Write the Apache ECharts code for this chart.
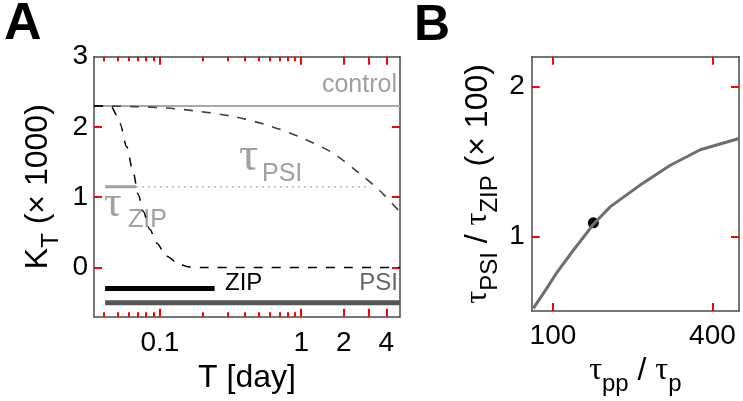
<!DOCTYPE html>
<html><head><meta charset="utf-8">
<script src="https://cdn.jsdelivr.net/npm/echarts@6/dist/echarts.min.js"></script>
<style>html,body{margin:0;padding:0;background:#fff}#c{width:743px;height:401px}</style>
</head><body><div id="c"></div>
<script>
// ---------- Panel A data ----------
const tRangeA = [0.0342, 5];
const kRangeA = [-0.7, 3];
const xMajorTicksA = [0.1, 1, 2, 3, 4];
const xMinorTicksA = [0.04, 0.05, 0.06, 0.07, 0.08, 0.09, 0.2, 0.3, 0.4, 0.5, 0.6, 0.7, 0.8, 0.9];
const xLabelsA = [0.1, 1, 2, 4];
const yTicksA = [0, 1, 2];
const yLabelsA = [0, 1, 2, 3];
const controlT = [0.0342, 5];
const controlK = [2.3, 2.3];
const zipT = [0.0342, 0.0409, 0.0456, 0.0495, 0.0522, 0.0582, 0.0648, 0.0703, 0.0762, 0.085, 0.0948, 0.1115, 0.1384, 0.1628, 0.1915, 5];
const zipK = [2.3, 2.3, 2.28, 2.17, 2.05, 1.72, 1.35, 1.04, 0.80, 0.54, 0.35, 0.16, 0.04, 0.006, 0, 0];
const psiT = [0.0342, 0.0648, 0.1115, 0.1915, 0.329, 0.566, 0.973, 1.671, 2.578, 3.57, 5.0];
const psiK = [2.3, 2.29, 2.27, 2.22, 2.15, 2.03, 1.86, 1.63, 1.34, 1.10, 0.79];
const halfSolidT = [0.041, 0.068];
const halfSolidK = [1.15, 1.15];
const halfDotT = [0.068, 3.1];
const halfDotK = [1.15, 1.15];
const zipBarT = [0.041, 0.244];
const zipBarK = [-0.3, -0.3];
const psiBarT = [0.041, 5];
const psiBarK = [-0.5, -0.5];

// ---------- Panel B data ----------
const ppRangeB = [60, 450];
const ratioRangeB = [0.5, 2.2];
const xTicksB = [100, 400];
const yTicksB = [1, 2];
const ppX = [63, 85.5, 108, 138, 176, 208, 236, 264, 320, 377, 450];
const ratioY = [0.518, 0.637, 0.761, 0.905, 1.08, 1.198, 1.27, 1.342, 1.473, 1.578, 1.653];
const dotX = [176];
const dotY = [1.09];

const zip = (a, b) => a.map((v, i) => [v, b[i]]);
const SANS = 'Liberation Sans, Arial, Helvetica, sans-serif';
const SERIF = 'Liberation Serif, Times New Roman, serif';
const AX = '#4a4a4a';

function axisBase(o) {
  return Object.assign({
    axisLine: { show: false, onZero: false },
    axisTick: { show: false },
    axisLabel: { show: false },
    splitLine: { show: false }
  }, o);
}
function line() { return { show: true, onZero: false, lineStyle: { color: AX, width: 1.5 } }; }
function ticks(vals, len) {
  return { show: true, inside: true, length: len, customValues: vals, lineStyle: { color: 'red', width: 2 } };
}
const labelStyle = { show: true, fontSize: 28, fontFamily: SANS, color: '#000' };
const richName = {
  m: { fontSize: 32, lineHeight: 32, fontFamily: SANS, color: '#000', verticalAlign: 'top' },
  t: { fontSize: 32, lineHeight: 32, fontFamily: SERIF, color: '#000', verticalAlign: 'top' },
  s: { fontSize: 24, lineHeight: 24, fontFamily: SANS, color: '#000', verticalAlign: 'top', padding: [17, 0, 0, 0] }
};
const fmt = v => String(+(+v).toPrecision(3));

const option = {
  animation: false,
  grid: [
    { left: 94, top: 56.7, width: 306, height: 260 },
    { left: 531.7, top: 56.7, width: 207.3, height: 260 }
  ],
  xAxis: [
    axisBase({ gridIndex: 0, type: 'log', position: 'bottom', min: tRangeA[0], max: tRangeA[1],
      axisLine: line(),
      axisTick: ticks(xMajorTicksA, 8),
      axisLabel: Object.assign({}, labelStyle, { customValues: xLabelsA, margin: 13, formatter: fmt }),
      name: 'T [day]', nameLocation: 'middle', nameGap: 37,
      nameTextStyle: { fontSize: 32, fontFamily: SANS, color: '#000' } }),
    axisBase({ gridIndex: 0, type: 'log', position: 'bottom', min: tRangeA[0], max: tRangeA[1],
      axisTick: ticks(xMinorTicksA, 4.5) }),
    axisBase({ gridIndex: 0, type: 'log', position: 'top', min: tRangeA[0], max: tRangeA[1],
      axisLine: line(),
      axisTick: ticks(xMajorTicksA, 8) }),
    axisBase({ gridIndex: 0, type: 'log', position: 'top', min: tRangeA[0], max: tRangeA[1],
      axisTick: ticks(xMinorTicksA, 4.5) }),
    axisBase({ gridIndex: 1, type: 'value', position: 'bottom', min: ppRangeB[0], max: ppRangeB[1],
      axisLine: line(),
      axisTick: ticks(xTicksB, 8),
      axisLabel: Object.assign({}, labelStyle, { customValues: xTicksB, margin: 11 }),
      name: '{t|τ}{s|pp}{m| / }{t|τ}{s|p}', nameLocation: 'middle', nameGap: 32,
      nameTextStyle: { rich: richName } }),
    axisBase({ gridIndex: 1, type: 'value', position: 'top', min: ppRangeB[0], max: ppRangeB[1],
      axisLine: line(),
      axisTick: ticks(xTicksB, 8) })
  ],
  yAxis: [
    axisBase({ gridIndex: 0, type: 'value', position: 'left', min: kRangeA[0], max: kRangeA[1],
      axisLine: line(),
      axisTick: ticks(yTicksA, 8),
      axisLabel: Object.assign({}, labelStyle, { customValues: yLabelsA, margin: 6 }),
      name: '{m|K}{s|T}{m| (× 1000)}', nameLocation: 'middle', nameRotate: 90, nameGap: 40,
      nameTextStyle: { rich: richName } }),
    axisBase({ gridIndex: 0, type: 'value', position: 'right', min: kRangeA[0], max: kRangeA[1],
      axisLine: line(),
      axisTick: ticks(yTicksA, 8) }),
    axisBase({ gridIndex: 1, type: 'value', position: 'left', min: ratioRangeB[0], max: ratioRangeB[1],
      axisLine: line(),
      axisTick: ticks(yTicksB, 8),
      axisLabel: Object.assign({}, labelStyle, { customValues: yTicksB, margin: 7 }),
      name: '{t|τ}{s|PSI}{m| / }{t|τ}{s|ZIP}{m| (× 100)}', nameLocation: 'middle', nameRotate: 90, nameGap: 38,
      nameTextStyle: { rich: richName } }),
    axisBase({ gridIndex: 1, type: 'value', position: 'right', min: ratioRangeB[0], max: ratioRangeB[1],
      axisLine: line(),
      axisTick: ticks(yTicksB, 8) })
  ],
  series: [
    { type: 'line', xAxisIndex: 0, yAxisIndex: 0, data: zip(controlT, controlK), symbol: 'none',
      lineStyle: { color: '#a8a8a8', width: 2 } },
    { type: 'line', xAxisIndex: 0, yAxisIndex: 0, data: zip(halfSolidT, halfSolidK), symbol: 'none',
      lineStyle: { color: '#a0a0a0', width: 3, cap: 'butt' } },
    { type: 'line', xAxisIndex: 0, yAxisIndex: 0, data: zip(halfDotT, halfDotK), symbol: 'none',
      lineStyle: { color: '#a0a0a0', width: 1.5, type: [1.5, 4.5] } },
    { type: 'line', xAxisIndex: 0, yAxisIndex: 0, data: zip(psiT, psiK), symbol: 'none', smooth: 0.3,
      lineStyle: { color: '#404040', width: 1.6, type: [9, 9] } },
    { type: 'line', xAxisIndex: 0, yAxisIndex: 0, data: zip(zipT, zipK), symbol: 'none', smooth: 0.3, smoothMonotone: 'x',
      lineStyle: { color: '#000', width: 1.5, type: [9, 9] } },
    { type: 'line', xAxisIndex: 0, yAxisIndex: 0, data: zip(zipBarT, zipBarK), symbol: 'none',
      lineStyle: { color: '#000', width: 5, cap: 'butt' } },
    { type: 'line', xAxisIndex: 0, yAxisIndex: 0, data: zip(psiBarT, psiBarK), symbol: 'none',
      lineStyle: { color: '#555', width: 5, cap: 'butt' } },
    { type: 'line', xAxisIndex: 4, yAxisIndex: 2, data: zip(ppX, ratioY), symbol: 'none',
      lineStyle: { color: '#6e6e6e', width: 3 } },
    { type: 'scatter', xAxisIndex: 4, yAxisIndex: 2, data: zip(dotX, dotY), symbol: 'circle', symbolSize: 11,
      itemStyle: { color: '#000', opacity: 1 } }
  ]
};
const chart = echarts.init(document.getElementById('c'));
chart.setOption(option);
chart.setOption({
  graphic: [
    { type: 'text', x: 4, y: 25, style: { text: 'A', fontSize: 52, fontWeight: 'bold', fontFamily: SANS, fill: '#000', align: 'left', verticalAlign: 'middle' } },
    { type: 'text', x: 414, y: 26, style: { text: 'B', fontSize: 50, fontWeight: 'bold', fontFamily: SANS, fill: '#000', align: 'left', verticalAlign: 'middle' } },
    { type: 'text', x: 397, y: 85, style: { text: 'control', fontSize: 25, fontFamily: SANS, fill: '#a0a0a0', align: 'right', verticalAlign: 'middle' } },
    { type: 'text', x: 225, y: 283.5, style: { text: 'ZIP', fontSize: 24, fontFamily: SANS, fill: '#000', align: 'left', verticalAlign: 'middle' } },
    { type: 'text', x: 398, y: 283.5, style: { text: 'PSI', fontSize: 24, fontFamily: SANS, fill: '#666', align: 'right', verticalAlign: 'middle' } },
    { type: 'text', x: 239, y: 157, style: { text: 'τ', fontSize: 48, fontFamily: SERIF, fill: '#a0a0a0', align: 'left', verticalAlign: 'middle' } },
    { type: 'text', x: 262, y: 174, style: { text: 'PSI', fontSize: 25, fontFamily: SANS, fill: '#a0a0a0', align: 'left', verticalAlign: 'middle' } },
    { type: 'text', x: 104, y: 204, style: { text: 'τ', fontSize: 44, fontFamily: SERIF, fill: '#a0a0a0', align: 'left', verticalAlign: 'middle' } },
    { type: 'text', x: 128, y: 220, style: { text: 'ZIP', fontSize: 25, fontFamily: SANS, fill: '#a0a0a0', align: 'left', verticalAlign: 'middle' } }
  ]
});
</script>
</body></html>
